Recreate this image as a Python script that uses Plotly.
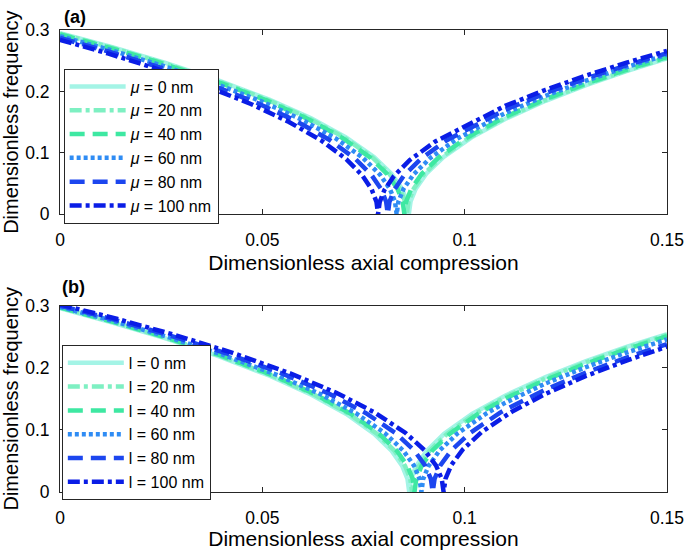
import plotly.graph_objects as go

# ---------------- Panel (a): nonlocal parameter mu ----------------
a_names = ["<i>μ</i> = 0 nm", "<i>μ</i> = 20 nm", "<i>μ</i> = 40 nm",
           "<i>μ</i> = 60 nm", "<i>μ</i> = 80 nm", "<i>μ</i> = 100 nm"]

a_x_mu0 = [0, 0.01293, 0.02586, 0.03879, 0.05172, 0.06206, 0.07068, 0.07758, 0.08189, 0.08448, 0.08577, 0.0862,
           0.08663, 0.08792, 0.09051, 0.09482, 0.10172, 0.11, 0.12, 0.13, 0.14, 0.15]
a_y_mu0 = [0.295, 0.2720, 0.2468, 0.2188, 0.1866, 0.1561, 0.1252, 0.0933, 0.0660, 0.0417, 0.0209, 0,
           0.0209, 0.0417, 0.0660, 0.0933, 0.1252, 0.1550, 0.1847, 0.2103, 0.2331, 0.2538]

a_x_mu20 = [0, 0.012855, 0.02571, 0.038565, 0.05142, 0.061704, 0.070274, 0.07713, 0.081415, 0.083986, 0.085272, 0.0857,
            0.086129, 0.087414, 0.089985, 0.09427, 0.101126, 0.11, 0.12, 0.13, 0.14, 0.15]
a_y_mu20 = [0.294, 0.2711, 0.2460, 0.2180, 0.1860, 0.1556, 0.1247, 0.0930, 0.0657, 0.0416, 0.0208, 0,
            0.0208, 0.0416, 0.0657, 0.0930, 0.1247, 0.1566, 0.1860, 0.2114, 0.2340, 0.2547]

a_x_mu40 = [0, 0.012765, 0.02553, 0.038295, 0.05106, 0.061272, 0.069782, 0.07659, 0.080845, 0.083398, 0.084675, 0.0851,
            0.085526, 0.086802, 0.089355, 0.09361, 0.100418, 0.11, 0.12, 0.13, 0.14, 0.15]
a_y_mu40 = [0.293, 0.2702, 0.2452, 0.2173, 0.1853, 0.1551, 0.1243, 0.0927, 0.0655, 0.0414, 0.0207, 0,
            0.0207, 0.0414, 0.0655, 0.0927, 0.1243, 0.1585, 0.1876, 0.2128, 0.2353, 0.2559]

a_x_mu60 = [0, 0.01248, 0.02496, 0.03744, 0.04992, 0.059904, 0.068224, 0.07488, 0.07904, 0.081536, 0.082784, 0.0832,
            0.083616, 0.084864, 0.08736, 0.09152, 0.098176, 0.11, 0.12, 0.13, 0.14, 0.15]
a_y_mu60 = [0.290, 0.2674, 0.2426, 0.2151, 0.1834, 0.1535, 0.1231, 0.0917, 0.0648, 0.0410, 0.0205, 0,
            0.0205, 0.0410, 0.0648, 0.0917, 0.1231, 0.1646, 0.1929, 0.2175, 0.2396, 0.2598]

a_x_mu80 = [0, 0.01215, 0.0243, 0.03645, 0.0486, 0.05832, 0.06642, 0.0729, 0.07695, 0.07938, 0.080595, 0.081,
            0.081405, 0.08262, 0.08505, 0.0891, 0.09558, 0.11, 0.12, 0.13, 0.14, 0.15]
a_y_mu80 = [0.287, 0.2646, 0.2401, 0.2128, 0.1815, 0.1519, 0.1218, 0.0908, 0.0642, 0.0406, 0.0203, 0,
            0.0201, 0.0402, 0.0635, 0.0898, 0.1205, 0.1700, 0.1971, 0.2210, 0.2425, 0.2622]

a_x_mu100 = [0, 0.01179, 0.02358, 0.03537, 0.04716, 0.056592, 0.064452, 0.07074, 0.07467, 0.077028, 0.078207, 0.0786,
             0.078993, 0.080172, 0.08253, 0.08646, 0.092748, 0.11, 0.12, 0.13, 0.14, 0.15]
a_y_mu100 = [0.284, 0.2619, 0.2376, 0.2106, 0.1796, 0.1503, 0.1205, 0.0898, 0.0635, 0.0402, 0.0201, 0,
             0.0197, 0.0395, 0.0624, 0.0883, 0.1185, 0.1764, 0.2026, 0.2258, 0.2467, 0.2661]

# ---------------- Panel (b): strain gradient parameter l ----------------
b_names = ["l = 0 nm", "l = 20 nm", "l = 40 nm", "l = 60 nm", "l = 80 nm", "l = 100 nm"]

b_x_l0 = [0, 0.012945, 0.02589, 0.038835, 0.05178, 0.062136, 0.070766, 0.07767, 0.081985, 0.084574, 0.085869, 0.0863,
          0.086732, 0.088026, 0.090615, 0.09493, 0.101834, 0.11, 0.12, 0.13, 0.14, 0.15]
b_y_l0 = [0.296, 0.2729, 0.2477, 0.2195, 0.1872, 0.1566, 0.1256, 0.0936, 0.0662, 0.0419, 0.0209, 0,
          0.0209, 0.0419, 0.0662, 0.0936, 0.1256, 0.1551, 0.1850, 0.2106, 0.2335, 0.2543]

b_x_l20 = [0, 0.01305, 0.0261, 0.03915, 0.0522, 0.06264, 0.07134, 0.0783, 0.08265, 0.08526, 0.086565, 0.087,
           0.087435, 0.08874, 0.09135, 0.0957, 0.10266, 0.11, 0.12, 0.13, 0.14, 0.15]
b_y_l20 = [0.297, 0.2738, 0.2485, 0.2203, 0.1879, 0.1572, 0.1260, 0.0939, 0.0664, 0.0420, 0.0210, 0,
           0.0210, 0.0420, 0.0664, 0.0939, 0.1260, 0.1527, 0.1829, 0.2088, 0.2318, 0.2527]

b_x_l40 = [0, 0.01314, 0.02628, 0.03942, 0.05256, 0.063072, 0.071832, 0.07884, 0.08322, 0.085848, 0.087162, 0.0876,
           0.088038, 0.089352, 0.09198, 0.09636, 0.103368, 0.11, 0.12, 0.13, 0.14, 0.15]
b_y_l40 = [0.297, 0.2738, 0.2485, 0.2203, 0.1879, 0.1572, 0.1260, 0.0939, 0.0664, 0.0420, 0.0210, 0,
           0.0210, 0.0420, 0.0664, 0.0939, 0.1260, 0.1502, 0.1806, 0.2066, 0.2297, 0.2507]

b_x_l60 = [0, 0.013395, 0.02679, 0.040185, 0.05358, 0.064296, 0.073226, 0.08037, 0.084835, 0.087514, 0.088854, 0.0893,
           0.089747, 0.091086, 0.093765, 0.09823, 0.105374, 0.11, 0.12, 0.13, 0.14, 0.15]
b_y_l60 = [0.298, 0.2748, 0.2493, 0.2210, 0.1885, 0.1577, 0.1264, 0.0942, 0.0666, 0.0421, 0.0211, 0,
           0.0211, 0.0421, 0.0666, 0.0942, 0.1264, 0.1435, 0.1747, 0.2012, 0.2245, 0.2457]

b_x_l80 = [0, 0.013815, 0.02763, 0.041445, 0.05526, 0.066312, 0.075522, 0.08289, 0.087495, 0.090258, 0.09164, 0.0921,
           0.092561, 0.093942, 0.096705, 0.10131, 0.108678, 0.11, 0.12, 0.13, 0.14, 0.15]
b_y_l80 = [0.300, 0.2766, 0.2510, 0.2225, 0.1898, 0.1588, 0.1273, 0.0949, 0.0671, 0.0424, 0.0212, 0,
           0.0212, 0.0424, 0.0671, 0.0949, 0.1273, 0.1323, 0.1651, 0.1924, 0.2164, 0.2379]

b_x_l100 = [0, 0.01422, 0.02844, 0.04266, 0.05688, 0.068256, 0.077736, 0.08532, 0.09006, 0.092904, 0.094326, 0.0948,
            0.095274, 0.096696, 0.09954, 0.10428, 0.111864, 0.12, 0.13, 0.14, 0.15]
b_y_l100 = [0.302, 0.2784, 0.2527, 0.2240, 0.1910, 0.1598, 0.1281, 0.0955, 0.0675, 0.0427, 0.0214, 0,
            0.0217, 0.0433, 0.0685, 0.0969, 0.1301, 0.1580, 0.1868, 0.2116, 0.2339]

x_tickvals = [0, 0.05, 0.1, 0.15]
x_ticktext = ["0", "0.05", "0.1", "0.15"]
y_tickvals = [0, 0.1, 0.2, 0.3]
y_ticktext = ["0", "0.1", "0.2", "0.3"]

colors = ["#a4f4e6", "#7ef0c2", "#3ee8a2", "#2f8cf4", "#1c46ef", "#0a1de6"]
dashes = ["solid", "12px,4px,4px,4px", "15px,8px", "4px,3px", "15px,8px", "12px,4px,4px,4px"]

a_series = [(a_x_mu0, a_y_mu0), (a_x_mu20, a_y_mu20), (a_x_mu40, a_y_mu40),
            (a_x_mu60, a_y_mu60), (a_x_mu80, a_y_mu80), (a_x_mu100, a_y_mu100)]
b_series = [(b_x_l0, b_y_l0), (b_x_l20, b_y_l20), (b_x_l40, b_y_l40),
            (b_x_l60, b_y_l60), (b_x_l80, b_y_l80), (b_x_l100, b_y_l100)]

FONT = "Liberation Sans, Arial, sans-serif"
AX = "#262626"
LW = 4.5

fig = go.Figure()
for i, (xs, ys) in enumerate(a_series):
    fig.add_trace(go.Scatter(x=xs, y=ys, mode="lines", name=a_names[i],
                             line=dict(color=colors[i], width=LW, dash=dashes[i]),
                             xaxis="x", yaxis="y", legend="legend"))
for i, (xs, ys) in enumerate(b_series):
    fig.add_trace(go.Scatter(x=xs, y=ys, mode="lines", name=b_names[i],
                             line=dict(color=colors[i], width=LW, dash=dashes[i]),
                             xaxis="x2", yaxis="y2", legend="legend2"))

axis_common = dict(showline=True, linecolor=AX, linewidth=1, mirror="ticks",
                   ticks="inside", ticklen=5, tickcolor=AX, showgrid=False,
                   zeroline=False, automargin=False,
                   tickfont=dict(family=FONT, size=17.5, color="#000"))

xt = dict(text="Dimensionless axial compression", standoff=6, font=dict(size=21))
yt = dict(text="Dimensionless frequency", standoff=13, font=dict(size=20))

fig.update_layout(
    width=685, height=550,
    margin=dict(l=60.4, r=17.7, t=29.7, b=57.7, autoexpand=False),
    paper_bgcolor="white", plot_bgcolor="white",
    font=dict(family=FONT, size=17.5, color="#000"),
    xaxis=dict(domain=[0, 1], range=[0, 0.15], tickvals=x_tickvals, ticktext=x_ticktext,
               anchor="y", title=xt, ticklabelstandoff=10, **axis_common),
    yaxis=dict(domain=[0.6012, 1.0], range=[0, 0.3], tickvals=y_tickvals, ticktext=y_ticktext,
               anchor="x", title=yt, ticklabelstandoff=6, **axis_common),
    xaxis2=dict(domain=[0, 1], range=[0, 0.15], tickvals=x_tickvals, ticktext=x_ticktext,
                anchor="y2", title=xt, ticklabelstandoff=10, **axis_common),
    yaxis2=dict(domain=[0, 0.4034], range=[0, 0.3], tickvals=y_tickvals, ticktext=y_ticktext,
                anchor="x2", title=yt, ticklabelstandoff=6, **axis_common),
    legend=dict(x=0.006, y=0.9166, xanchor="left", yanchor="top",
                bgcolor="white", bordercolor=AX, borderwidth=1, itemwidth=56,
                font=dict(family=FONT, size=16), tracegroupgap=0),
    legend2=dict(x=0.003, y=0.3184, xanchor="left", yanchor="top",
                 bgcolor="white", bordercolor=AX, borderwidth=1, itemwidth=56,
                 font=dict(family=FONT, size=16), tracegroupgap=0),
    showlegend=True,
    annotations=[
        dict(text="<b>(a)</b>", xref="paper", yref="paper", x=0.004, y=1.0275,
             xanchor="left", yanchor="middle", showarrow=False, font=dict(size=18, family=FONT)),
        dict(text="<b>(b)</b>", xref="paper", yref="paper", x=0.0, y=0.4427,
             xanchor="left", yanchor="middle", showarrow=False, font=dict(size=18, family=FONT)),
    ],
)

fig.write_html("out.html", config={"displayModeBar": False},
               post_script="document.body.style.margin='0px';")
